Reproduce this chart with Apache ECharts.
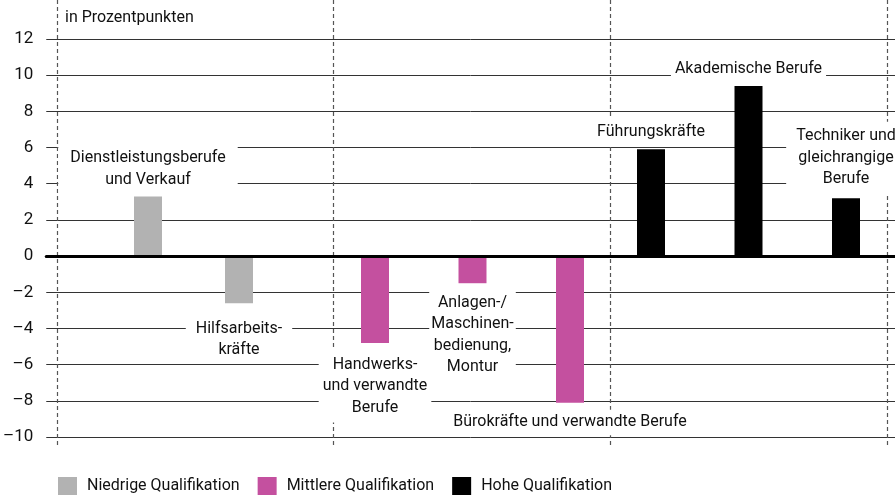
<!DOCTYPE html>
<html>
<head>
<meta charset="utf-8">
<script src="https://cdn.jsdelivr.net/npm/echarts@6/dist/echarts.min.js"></script>
<style>
  html, body { margin: 0; padding: 0; background: #fff; }
  #main { width: 895px; height: 497px; }
</style>
</head>
<body>
<div id="main"></div>
<script>
// Daten: Veränderung in Prozentpunkten
const groups = ['Niedrige Qualifikation', 'Mittlere Qualifikation', 'Hohe Qualifikation']
const lowCats = ['Dienstleistungsberufe\nund Verkauf', 'Hilfsarbeits-\nkräfte']
const lowValues = [3.3, -2.6]
const midCats = ['Handwerks-\nund verwandte\nBerufe', 'Anlagen-/\nMaschinen-\nbedienung,\nMontur', 'Bürokräfte und verwandte Berufe']
const midValues = [-4.8, -1.5, -8.1]
const highCats = ['Führungskräfte', 'Akademische Berufe', 'Techniker und\ngleichrangige\nBerufe']
const highValues = [5.9, 9.4, 3.2]
const yMin = -10
const yMax = 12
const yStep = 2

const colors = ['#b2b2b2', '#c4509f', '#000000']
const font = 'Roboto, "Liberation Sans", sans-serif'

// Beschriftungen an den Balken (nur Lage / Abstand)
const labelPos = {
  low: [
    { position: 'top', distance: 4, padding: [2, 12] },
    { position: 'bottom', distance: 14, padding: [1, 10] }
  ],
  mid: [
    { position: 'bottom', distance: 7, padding: [4, 4] },
    { position: 'bottom', distance: 4, padding: [5, 2] },
    { position: 'bottom', distance: 7, padding: [2, 8] }
  ],
  high: [
    { position: 'top', distance: 5, padding: [2, 4] },
    { position: 'top', distance: 4, padding: [2, 4] },
    { position: 'top', distance: 4, padding: [4, 10] }
  ]
}

const baseLabel = {
  show: true,
  formatter: '{b}',
  fontFamily: font,
  fontSize: 16,
  color: '#111',
  lineHeight: 21.5,
  align: 'center',
  backgroundColor: '#fff'
}

function makeData(values, pos) {
  return values.map((v, i) => ({ value: v, label: Object.assign({}, baseLabel, pos[i]) }))
}

const hiddenY = (idx) => ({
  type: 'value', gridIndex: idx, min: yMin, max: yMax, interval: yStep,
  show: false, splitLine: { show: false }
})
const hiddenX = (idx, cats) => ({
  type: 'category', gridIndex: idx, data: cats, show: false
})

var myChart = echarts.init(document.getElementById('main'))

const option = {
  animation: false,
  textStyle: { fontFamily: font },
  grid: [
    // Grundraster mit Achse
    { left: 44, right: 0, top: 39, bottom: 60 },
    // gestrichelte Gruppentrenner
    { left: 57, right: 8, top: 0, bottom: 52 },
    // Balkengruppen
    { left: 102.5, width: 182, top: 39, bottom: 60 },
    { left: 326.25, width: 292.5, top: 39, bottom: 60 },
    { left: 602.25, width: 292.5, top: 39, bottom: 60 }
  ],
  xAxis: [
    {
      type: 'category', gridIndex: 0, data: [''], z: 5,
      axisLine: { show: true, onZero: true, lineStyle: { color: '#000', width: 3 } },
      axisTick: { show: false }, axisLabel: { show: false }, splitLine: { show: false }
    },
    {
      type: 'category', gridIndex: 1, data: groups, boundaryGap: true,
      axisLine: { show: false }, axisTick: { show: false }, axisLabel: { show: false },
      splitLine: { show: true, lineStyle: { color: '#555', width: 1.2, type: [4, 3] } }
    },
    hiddenX(2, lowCats),
    hiddenX(3, midCats),
    hiddenX(4, highCats)
  ],
  yAxis: [
    {
      type: 'value', gridIndex: 0, min: yMin, max: yMax, interval: yStep,
      axisLine: { show: false }, axisTick: { show: false },
      axisLabel: {
        margin: 13, fontSize: 17, color: '#111', fontFamily: font,
        formatter: v => String(v).replace('-', '–')
      },
      splitLine: { show: true, lineStyle: { color: '#333', width: 1 } }
    },
    { type: 'value', gridIndex: 1, min: 0, max: 1, show: false, splitLine: { show: false } },
    hiddenY(2),
    hiddenY(3),
    hiddenY(4)
  ],
  legend: {
    left: 58, top: 477, padding: 0,
    itemWidth: 19, itemHeight: 18, itemGap: 18,
    icon: 'rect',
    data: groups,
    textStyle: { fontSize: 16, color: '#111', fontFamily: font, padding: [0, 0, 0, 5] }
  },
  graphic: [
    {
      type: 'text', left: 65, top: 10,
      style: { text: 'in Prozentpunkten', fontSize: 16, fontFamily: font, fill: '#111' }
    }
  ],
  series: [
    {
      name: groups[0], type: 'bar', xAxisIndex: 2, yAxisIndex: 2, barWidth: 28,
      itemStyle: { color: colors[0] },
      data: makeData(lowValues, labelPos.low)
    },
    {
      name: groups[1], type: 'bar', xAxisIndex: 3, yAxisIndex: 3, barWidth: 28,
      itemStyle: { color: colors[1] },
      data: makeData(midValues, labelPos.mid)
    },
    {
      name: groups[2], type: 'bar', xAxisIndex: 4, yAxisIndex: 4, barWidth: 28,
      itemStyle: { color: colors[2] },
      data: makeData(highValues, labelPos.high)
    }
  ]
}

myChart.setOption(option)
</script>
</body>
</html>
